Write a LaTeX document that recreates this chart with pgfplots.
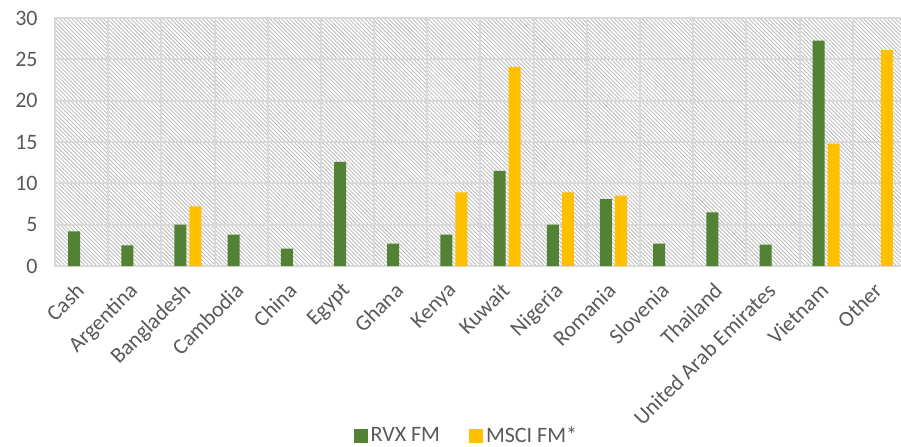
\documentclass[border=0pt]{standalone}
\usepackage{fontspec}
\setmainfont{Carlito}
\usepackage{pgfplots}
\pgfplotsset{compat=1.18}
\usetikzlibrary{patterns.meta}
\definecolor{rvx}{HTML}{548235}
\definecolor{msci}{HTML}{FFC000}
\definecolor{gridc}{HTML}{D9D9D9}
\definecolor{txt}{HTML}{595959}
\definecolor{hatch}{HTML}{BEBEBE}
\begin{document}
\begin{tikzpicture}
\useasboundingbox (0,0) rectangle (450.5pt,223pt);
\begin{axis}[
  at={(27.5pt,90pt)}, anchor=south west,
  scale only axis, width=425.5pt, height=124pt,
  xmin=-0.5, xmax=15.5, ymin=0, ymax=30,
  ytick={0,5,...,30},
  xtick={0,...,15},
  xticklabels={Cash,Argentina,Bangladesh,Cambodia,China,Egypt,Ghana,Kenya,Kuwait,Nigeria,Romania,Slovenia,Thailand,United Arab Emirates,Vietnam,Other},
  minor xtick={0.5,1.5,...,14.5},
  xminorgrids, ymajorgrids,
  grid style={draw=gridc, line width=1pt},
  major grid style={draw=gridc, line width=1pt},
  minor grid style={draw=gridc, line width=1pt},
  axis line style={draw=gridc, line width=1pt},
  major tick length=0pt, minor tick length=0pt,
  tick label style={font=\fontsize{11}{13}\selectfont, text=txt},
  /pgf/number format/assume math mode=true,
  yticklabel style={anchor=east, inner sep=0pt, xshift=-8.5pt},
  xticklabel style={xshift=-3.5pt, yshift=-7.5pt, rotate=45, anchor=north east, inner sep=0pt},
  axis background/.style={fill=white, postaction={pattern={Lines[angle=-45,distance=1.4pt,line width=0.45pt]}, pattern color=hatch}},
  ybar=1.5pt, bar width=6pt,
  legend columns=2,
  legend style={at={(0.484,-0.686)}, anchor=center, draw=none, fill=none,
    font=\fontsize{11}{13}\selectfont, text=txt,
    nodes={inner sep=1.5pt},
    /tikz/every even column/.append style={column sep=13pt}},
  legend image code/.code={\fill[#1, draw=none] (0pt,-3.5pt) rectangle (7pt,3.5pt);},
]
\addplot[fill=rvx, draw=none] coordinates {(0,4.2)(1,2.5)(2,5.0)(3,3.8)(4,2.1)(5,12.6)(6,2.7)(7,3.8)(8,11.5)(9,5.0)(10,8.1)(11,2.7)(12,6.5)(13,2.6)(14,27.25)};
\addlegendentry{RVX FM}
\addplot[fill=msci, draw=none] coordinates {(2,7.2)(7,8.9)(8,24.1)(9,8.9)(10,8.5)(14,14.8)(15,26.1)};
\addlegendentry{MSCI FM*}
\end{axis}
\end{tikzpicture}
\end{document}
